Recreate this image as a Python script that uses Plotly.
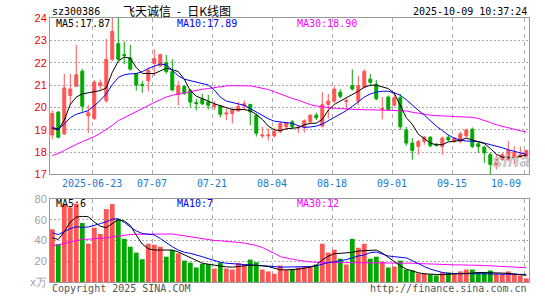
import plotly.graph_objects as go

# ---------------- data ----------------
opens = [18.76, 19.79, 18.81, 20.53, 20.94, 21.62, 19.62, 19.50, 20.97, 20.30,
         22.15, 22.85, 22.36, 22.21, 21.51, 21.02, 21.19, 21.96, 21.85, 22.00,
         21.60, 20.57, 20.93, 20.75, 20.21, 20.38, 20.24, 20.04, 20.06, 19.70,
         19.72, 19.84, 20.06, 20.13, 19.65, 18.72, 18.72, 18.72, 18.91, 19.13,
         19.35, 19.08, 19.10, 19.35, 19.65, 19.16, 20.13, 20.28, 20.68, 20.26,
         20.97, 20.28, 20.90, 21.26, 21.04, 19.90, 20.46, 20.09, 20.43, 18.99,
         18.40, 18.25, 18.47, 18.66, 18.35, 18.25, 18.66, 18.47, 18.47, 18.72,
         19.02, 18.37, 18.22, 17.88, 17.34, 17.66, 17.66, 17.74, 17.78, 17.81]
highs = [19.87, 19.82, 21.50, 21.50, 22.80, 21.72, 20.10, 21.23, 21.25, 23.06,
         24.15, 24.00, 22.95, 22.80, 21.55, 21.19, 21.78, 22.60, 22.40, 22.35,
         22.15, 21.19, 21.00, 20.82, 20.38, 20.60, 20.56, 20.28, 20.09, 19.94,
         20.01, 20.24, 20.30, 20.16, 19.72, 19.13, 19.06, 19.06, 19.35, 19.35,
         19.43, 19.20, 19.46, 19.68, 19.76, 20.68, 20.60, 20.93, 20.82, 20.40,
         21.70, 21.41, 21.70, 21.49, 21.22, 20.46, 20.53, 20.68, 20.60, 19.13,
         18.62, 18.54, 18.72, 18.72, 18.40, 18.69, 18.75, 18.66, 18.90, 19.05,
         19.10, 18.47, 18.28, 17.96, 17.88, 17.95, 18.50, 18.25, 18.25, 18.10]
lows = [18.57, 18.62, 18.78, 20.10, 20.93, 19.80, 18.85, 19.43, 20.80, 20.20,
        22.07, 22.10, 21.93, 21.65, 20.75, 20.65, 20.72, 21.40, 21.80, 21.50,
        20.72, 20.09, 20.55, 19.99, 19.87, 20.10, 19.91, 19.87, 19.54, 19.43,
        19.28, 19.80, 19.87, 19.20, 18.69, 18.62, 18.51, 18.65, 18.84, 18.98,
        19.06, 18.84, 18.87, 19.28, 19.43, 19.10, 19.50, 20.20, 20.40, 19.87,
        20.75, 20.09, 20.85, 20.97, 20.32, 19.46, 19.85, 20.05, 19.00, 18.28,
        17.66, 17.88, 18.32, 18.20, 18.25, 17.88, 18.50, 18.40, 18.40, 18.65,
        18.18, 17.96, 17.51, 17.00, 17.22, 17.60, 17.59, 17.44, 17.72, 17.74]
closes = [19.72, 18.66, 20.87, 20.82, 21.46, 20.05, 19.76, 21.13, 21.10, 22.15,
          23.40, 22.15, 22.32, 21.71, 21.00, 20.98, 21.66, 22.18, 22.36, 21.60,
          20.78, 20.97, 20.63, 20.24, 20.17, 20.16, 20.09, 20.13, 19.69, 19.74,
          19.87, 20.04, 20.16, 19.79, 18.84, 18.76, 18.76, 18.91, 19.28, 19.31,
          19.13, 19.10, 19.40, 19.65, 19.53, 20.12, 20.28, 20.82, 20.49, 20.30,
          20.82, 20.97, 21.60, 21.12, 20.38, 19.95, 19.90, 20.43, 19.13, 18.40,
          18.07, 18.47, 18.66, 18.28, 18.30, 18.62, 18.54, 18.62, 18.81, 18.99,
          18.25, 18.25, 17.96, 17.44, 17.71, 17.88, 18.07, 17.99, 17.88, 18.07]
ma5 = [19.06, 18.99, 19.43, 20.13, 20.46, 20.60, 20.65, 20.71, 20.75, 20.87,
       21.56, 22.07, 22.25, 22.20, 21.78, 21.52, 21.51, 21.51, 21.63, 21.75,
       21.69, 21.60, 21.26, 20.75, 20.50, 20.40, 20.28, 20.16, 20.07, 19.97,
       19.90, 19.90, 19.90, 19.85, 19.68, 19.46, 19.16, 18.99, 18.96, 19.04,
       19.06, 19.09, 19.22, 19.28, 19.29, 19.46, 19.87, 20.13, 20.28, 20.43,
       20.56, 20.72, 20.90, 20.99, 20.99, 20.93, 20.84, 20.63, 20.09, 19.54,
       19.24, 18.80, 18.60, 18.40, 18.32, 18.33, 18.45, 18.47, 18.52, 18.62,
       18.55, 18.46, 18.38, 18.16, 17.90, 17.77, 17.74, 17.74, 17.80, 17.87]
ma10 = [19.10, 19.03, 19.25, 19.54, 19.69, 19.76, 19.85, 20.07, 20.31, 20.60,
        21.01, 21.34, 21.46, 21.50, 21.51, 21.60, 21.74, 21.84, 21.94, 21.90,
        21.66, 21.41, 21.26, 21.19, 21.13, 21.07, 21.00, 20.78, 20.46, 20.28,
        20.22, 20.16, 20.09, 19.94, 19.79, 19.65, 19.49, 19.38, 19.34, 19.31,
        19.28, 19.18, 19.10, 19.12, 19.16, 19.25, 19.40, 19.57, 19.72, 19.85,
        20.04, 20.24, 20.46, 20.60, 20.68, 20.72, 20.72, 20.65, 20.54, 20.34,
        20.09, 19.87, 19.65, 19.40, 19.16, 18.96, 18.76, 18.62, 18.53, 18.49,
        18.49, 18.47, 18.40, 18.34, 18.26, 18.19, 18.10, 18.03, 17.96, 17.89]
ma30 = [17.84, 17.93, 18.07, 18.22, 18.34, 18.46, 18.57, 18.69, 18.84, 19.00,
        19.19, 19.40, 19.54, 19.68, 19.80, 19.94, 20.09, 20.22, 20.34, 20.46,
        20.54, 20.60, 20.66, 20.72, 20.76, 20.81, 20.84, 20.88, 20.93, 20.96,
        20.97, 20.97, 20.97, 20.96, 20.91, 20.87, 20.80, 20.70, 20.60, 20.48,
        20.40, 20.32, 20.22, 20.12, 20.06, 20.02, 19.99, 19.96, 19.94, 19.92,
        19.90, 19.90, 19.89, 19.89, 19.88, 19.88, 19.88, 19.87, 19.87, 19.84,
        19.78, 19.73, 19.69, 19.65, 19.63, 19.62, 19.60, 19.59, 19.57, 19.56,
        19.55, 19.50, 19.42, 19.32, 19.22, 19.15, 19.07, 19.00, 18.95, 18.90]
volume = [50.8, 36.5, 74.5, 72.0, 75.5, 56.8, 36.8, 52.4, 46.3, 70.2,
          75.0, 60.6, 41.6, 34.0, 28.3, 21.9, 36.8, 35.9, 34.0, 24.4,
          30.8, 27.6, 20.6, 18.7, 14.0, 17.5, 17.5, 13.0, 18.7, 13.0,
          12.0, 18.4, 16.8, 21.6, 19.0, 12.0, 10.2, 7.9, 15.9, 11.7,
          11.7, 14.0, 14.9, 14.9, 16.8, 36.8, 28.3, 31.1, 22.5, 16.8,
          41.6, 33.0, 36.8, 22.5, 24.4, 19.7, 14.0, 14.9, 20.6, 12.0,
          11.1, 8.3, 8.3, 7.3, 6.3, 9.2, 9.2, 7.9, 10.2, 12.0,
          12.0, 9.2, 9.2, 11.1, 7.9, 7.9, 10.2, 7.9, 6.3, 3.5]
vma5 = [42.5, 41.0, 48.3, 57.8, 62.5, 63.2, 62.9, 57.8, 53.7, 52.4,
        56.2, 60.0, 58.7, 54.6, 45.1, 36.5, 32.1, 30.8, 30.8, 31.1,
        30.8, 28.9, 26.0, 23.2, 20.6, 18.1, 17.1, 16.2, 15.2, 14.6,
        14.3, 14.6, 15.6, 16.2, 16.2, 15.6, 14.9, 13.2, 11.7, 11.7,
        11.7, 12.4, 13.3, 14.3, 16.2, 21.3, 24.8, 27.3, 27.6, 27.9,
        28.6, 29.8, 30.2, 30.5, 30.8, 27.9, 23.8, 19.4, 15.6, 12.4,
        10.5, 8.9, 7.9, 7.9, 7.3, 7.0, 7.6, 7.9, 7.9, 7.9,
        8.6, 9.2, 9.2, 9.2, 9.2, 8.6, 8.3, 7.9, 7.3, 6.4]
vma10 = [47.3, 45.7, 48.6, 51.4, 53.3, 52.7, 53.0, 54.3, 56.2, 58.1,
         60.6, 60.9, 57.5, 53.0, 49.2, 46.7, 46.0, 45.4, 41.9, 37.8,
         34.0, 30.8, 28.6, 27.6, 26.3, 24.4, 22.5, 20.6, 19.0, 18.1,
         17.5, 17.1, 16.8, 16.5, 16.2, 16.2, 15.6, 14.9, 14.3, 14.3,
         14.3, 14.3, 14.6, 14.9, 15.6, 17.5, 18.7, 19.4, 20.3, 21.6,
         23.2, 25.1, 26.0, 28.3, 28.9, 26.7, 25.1, 24.4, 24.1, 23.2,
         20.6, 17.5, 14.9, 12.4, 10.5, 9.2, 8.3, 8.0, 8.0, 8.0,
         8.0, 8.0, 7.9, 7.9, 7.9, 7.8, 7.7, 7.6, 7.5, 7.3]
vma30 = [34.9, 35.9, 37.1, 38.7, 40.0, 41.0, 41.3, 41.6, 41.9, 42.5,
         43.5, 44.4, 45.1, 45.7, 46.0, 46.0, 46.0, 46.3, 46.7, 46.7,
         46.3, 45.4, 44.4, 43.5, 42.5, 41.6, 40.6, 40.0, 39.7, 39.4,
         38.7, 38.1, 37.5, 36.5, 35.2, 33.3, 30.8, 27.6, 24.4, 22.9,
         21.9, 21.0, 20.0, 19.4, 19.0, 18.7, 18.7, 18.7, 18.7, 18.7,
         18.7, 18.7, 18.7, 18.7, 18.4, 18.4, 18.1, 18.1, 18.1, 18.1,
         18.1, 17.8, 17.5, 17.5, 17.1, 16.8, 16.5, 16.5, 16.5, 16.5,
         16.2, 15.9, 15.9, 15.6, 15.2, 14.9, 14.6, 14.3, 14.0, 13.7]
price_ma_labels = ["MA5:17.87", "MA10:17.89", "MA30:18.90"]
vol_ma_labels = ["MA5:6", "MA10:7", "MA30:12"]
tick_dates = ["2025-06-23", "07-07", "07-21", "08-04", "08-18", "09-01", "09-15", "10-09"]
tick_index = [7, 17, 27, 37, 47, 57, 67, 79]
price_ticks = [17, 18, 19, 20, 21, 22, 23, 24]
vol_ticks = [0, 20, 40, 60, 80]
vol_tick_text = ["x万", "20", "40", "60", "80"]

# ---------------- styling / layout ----------------
RED = "#ff5555"
GREEN = "#00a800"
FRAME = "#999999"
GRID = "#aaaaaa"
MONO = "DejaVu Sans Mono"
MA_COLORS = ["#000000", "#0000ff", "#ff00ff"]

W, H = 545, 300
ML, MR, MT, MB = 50, 16, 18, 14
PW, PH = W - ML - MR, H - MT - MB


def fx(x):
    return (x - ML) / PW


def fy(y):
    return (H - MB - y) / PH


idx = list(range(len(closes)))
bar_colors = [RED if c >= o else GREEN for o, c in zip(opens, closes)]
grid_x = [i - 0.35 for i in tick_index]
xr = [-0.38, 79.45]

fig = go.Figure()
fig.add_trace(go.Candlestick(
    x=idx, open=opens, high=highs, low=lows, close=closes,
    increasing=dict(line=dict(color=RED, width=1), fillcolor=RED),
    decreasing=dict(line=dict(color=GREEN, width=1), fillcolor=GREEN),
    whiskerwidth=0, xaxis="x", yaxis="y", hoverinfo="skip"))
for series, col in [(ma30, MA_COLORS[2]), (ma10, MA_COLORS[1]), (ma5, MA_COLORS[0])]:
    fig.add_trace(go.Scatter(x=idx, y=series, mode="lines",
                             line=dict(color=col, width=1), xaxis="x", yaxis="y",
                             hoverinfo="skip"))
fig.add_trace(go.Bar(x=idx, y=volume, marker=dict(color=bar_colors, line=dict(width=0)),
                     width=0.8, xaxis="x2", yaxis="y2", hoverinfo="skip"))
for series, col in [(vma30, MA_COLORS[2]), (vma10, MA_COLORS[1]), (vma5, MA_COLORS[0])]:
    fig.add_trace(go.Scatter(x=idx, y=series, mode="lines",
                             line=dict(color=col, width=1), xaxis="x2", yaxis="y2",
                             hoverinfo="skip"))

axis_common = dict(showline=True, mirror=True, linecolor=FRAME, linewidth=1,
                   zeroline=False, ticks="")
fig.update_layout(
    width=W, height=H, margin=dict(l=ML, r=MR, t=MT, b=MB),
    paper_bgcolor="white", plot_bgcolor="white", showlegend=False,
    xaxis=dict(domain=[0, 1], range=xr, anchor="y", tickvals=grid_x,
               showticklabels=False, showgrid=True, gridcolor=GRID,
               griddash="4px,4px", rangeslider=dict(visible=False), **axis_common),
    yaxis=dict(domain=[fy(176.7), 1], range=[17, 24], anchor="x",
               tickvals=price_ticks, ticktext=[str(v) for v in price_ticks],
               tickfont=dict(family="Liberation Sans", size=11, color="#ee0000"),
               showgrid=True, gridcolor=GRID, griddash="2px,2px", **axis_common),
    xaxis2=dict(domain=[0, 1], range=xr, anchor="y2", tickvals=grid_x,
                showticklabels=False, showgrid=True, gridcolor=GRID,
                griddash="4px,4px", **axis_common),
    yaxis2=dict(domain=[0, fy(201.7)], range=[0, 80], anchor="x2",
                tickvals=vol_ticks, ticktext=vol_tick_text,
                tickfont=dict(family="Liberation Sans", size=11, color="#a0a0a0"),
                showgrid=True, gridcolor=GRID, griddash="2px,2px", **axis_common),
)

ann = []


def text(x, y, s, color="#000", size=10, family=MONO, anchor="left", **kw):
    ann.append(dict(x=fx(x), y=fy(y), xref="paper", yref="paper", text=s,
                    showarrow=False, xanchor=anchor, yanchor="middle",
                    font=dict(family=family, size=size, color=color, **kw)))


# date labels under main chart
for k, (i, lab) in enumerate(zip(grid_x, tick_dates)):
    last = k == len(grid_x) - 1
    ann.append(dict(x=i, y=fy(186.5), xref="x", yref="paper", text=lab,
                    showarrow=False, xanchor="right" if last else "center",
                    xshift=-1 if last else 0, yanchor="middle",
                    font=dict(family=MONO, size=10, color="#1e78c8")))

text(49.5, 11.5, "sz300386")
text(176.5, 10, "飞天诚信\u2002-\u2002日K线图", size=12, family="Noto Sans CJK SC",
     anchor="center")
text(529, 11.5, "2025-10-09 10:37:24", anchor="right")
for lab, x0, col in zip(price_ma_labels, [54, 174.5, 294.5], MA_COLORS):
    text(x0, 23.5, lab, color=col)
for lab, x0, col in zip(vol_ma_labels, [54, 174.5, 294.5], MA_COLORS):
    text(x0, 206.5, lab, color=col)
text(49.5, 292.5, "Copyright 2025 SINA.COM", color="#555")
text(529, 292.5, "http://finance.sina.com.cn", color="#555", anchor="right")
text(511, 163, "sina", color="#c8c8c8", size=19, family="Liberation Sans",
     anchor="center", style="italic", weight="bold")

fig.update_layout(annotations=ann)
fig.write_html("out.html")
